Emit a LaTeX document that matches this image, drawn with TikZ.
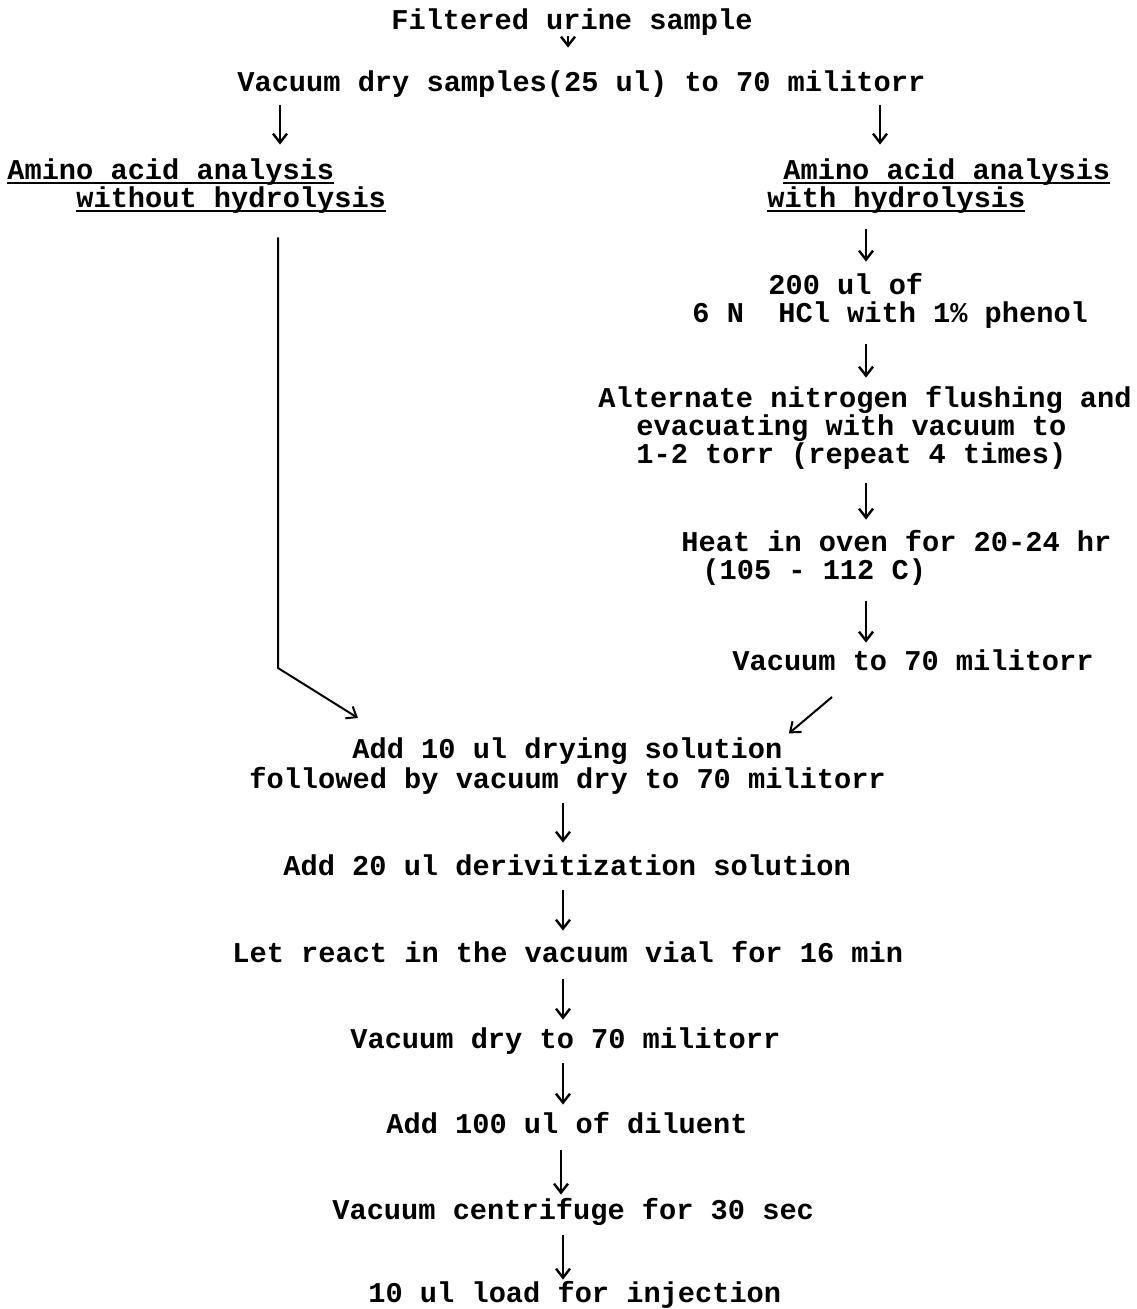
\documentclass[tikz,border=0pt]{standalone}
\usepackage{fontspec}
\setmainfont{Liberation Mono}
\usepackage{tikz}
\usetikzlibrary{arrows.meta}
\newlength{\ulwidth}
\newcommand{\typeul}[1]{\settowidth{\ulwidth}{#1}\rlap{\rule[-2.2pt]{\ulwidth}{1.2pt}}#1}

\begin{document}
\begin{tikzpicture}[
        font = \fontsize{14.33pt}{14pt}\selectfont\bfseries,
        txt/.style = {inner sep = 0pt, anchor = base west, text height = 9.5pt, text depth = 2.5pt},
        arr/.style = {-{Straight Barb[length = 4.5pt, width = 7pt]}, line width = 1.2pt}
    ]

        \useasboundingbox (0pt, 0pt) rectangle (568pt, -654.5pt);

        \node [txt] (filtered) at (195.5pt, -15pt) {Filtered urine sample};
        \node [txt] (drysample) at (118.5pt, -46pt) {Vacuum dry samples(25 ul) to 70 militorr};

        \node [txt] (noh1) at (3.5pt, -90pt) {\typeul{Amino acid analysis}};
        \node [txt] (noh2) at (38pt, -104pt) {\typeul{without hydrolysis}};
        \node [txt] (wh1) at (391.5pt, -90pt) {\typeul{Amino acid analysis}};
        \node [txt] (wh2) at (383.5pt, -104pt) {\typeul{with hydrolysis}};

        \node [txt] (hcl1) at (384pt, -147.5pt) {200 ul of};
        \node [txt] (hcl2) at (346pt, -161.5pt) {6 N\ \ HCl with 1\% phenol};
        \node [txt] (flush1) at (299pt, -204pt) {Alternate nitrogen flushing and};
        \node [txt] (flush2) at (318pt, -218pt) {evacuating with vacuum to};
        \node [txt] (flush3) at (318pt, -232pt) {1-2 torr (repeat 4 times)};
        \node [txt] (heat1) at (340.5pt, -275.5pt) {Heat in oven for 20-24 hr};
        \node [txt] (heat2) at (351pt, -289.5pt) {(105 - 112 C)};
        \node [txt] (vac70) at (366pt, -335pt) {Vacuum to 70 militorr};

        \node [txt] (drying1) at (176pt, -379pt) {Add 10 ul drying solution};
        \node [txt] (drying2) at (124.5pt, -394pt) {followed by vacuum dry to 70 militorr};
        \node [txt] (deriv) at (141.5pt, -437.5pt) {Add 20 ul derivitization solution};
        \node [txt] (react) at (116pt, -481pt) {Let react in the vacuum vial for 16 min};
        \node [txt] (vacdry) at (175pt, -524pt) {Vacuum dry to 70 militorr};
        \node [txt] (diluent) at (193pt, -566.5pt) {Add 100 ul of diluent};
        \node [txt] (centri) at (166pt, -609.5pt) {Vacuum centrifuge for 30 sec};
        \node [txt] (load) at (184pt, -651pt) {10 ul load for injection};

        \coordinate (lturn) at (139pt, -334pt);
        \coordinate (lend) at (179pt, -359pt);
        \coordinate (rstart) at (416pt, -348.5pt);

        % Top
        \draw [arr, shorten <= 0.5pt, shorten >= 12.5pt] (filtered.south -| 284pt, 0pt) -- (drysample.north -| 284pt, 0pt);
        \draw [arr, shorten <= 4pt, shorten >= 8pt] (drysample.south -| 140pt, 0pt) -- (noh1.north -| 140pt, 0pt);
        \draw [arr, shorten <= 4pt, shorten >= 8pt] (drysample.south -| 440pt, 0pt) -- (wh1.north -| 440pt, 0pt);

        % Hydrolysis side
        \draw [arr, shorten <= 8pt, shorten >= 7pt] (wh2.south -| 433pt, 0pt) -- (hcl1.north -| 433pt, 0pt);
        \draw [arr, shorten <= 8pt, shorten >= 5.5pt] (hcl2.south -| 433pt, 0pt) -- (flush1.north -| 433pt, 0pt);
        \draw [arr, shorten <= 7pt, shorten >= 6pt] (flush3.south -| 433pt, 0pt) -- (heat1.north -| 433pt, 0pt);
        \draw [arr, shorten <= 8.5pt, shorten >= 4pt] (heat2.south -| 433pt, 0pt) -- (vac70.north -| 433pt, 0pt);

        % Joining
        \draw [arr, line width = 1pt, shorten <= 12pt] (noh2.south -| lturn) -- (lturn) -- (lend);
        \draw [arr, line width = 1pt, shorten >= 4pt] (rstart) -- (drying1.north east);

        % Bottom
        \draw [arr, shorten <= 5pt, shorten >= 6.5pt] (drying2.south -| 281.5pt, 0pt) -- (deriv.north -| 281.5pt, 0pt);
        \draw [arr, shorten <= 5pt, shorten >= 6pt] (deriv.south -| 281.5pt, 0pt) -- (react.north -| 281.5pt, 0pt);
        \draw [arr, shorten <= 6pt, shorten >= 4.5pt] (react.south -| 281.5pt, 0pt) -- (vacdry.north -| 281.5pt, 0pt);
        \draw [arr, shorten <= 5pt, shorten >= 4.5pt] (vacdry.south -| 281.5pt, 0pt) -- (diluent.north -| 281.5pt, 0pt);
        \draw [arr, shorten <= 6pt, shorten >= 2.5pt] (diluent.south -| 280.5pt, 0pt) -- (centri.north -| 280.5pt, 0pt);
        \draw [arr, shorten <= 5.5pt, shorten >= 1.5pt] (centri.south -| 281.5pt, 0pt) -- (load.north -| 281.5pt, 0pt);

    \end{tikzpicture}
\end{document}
